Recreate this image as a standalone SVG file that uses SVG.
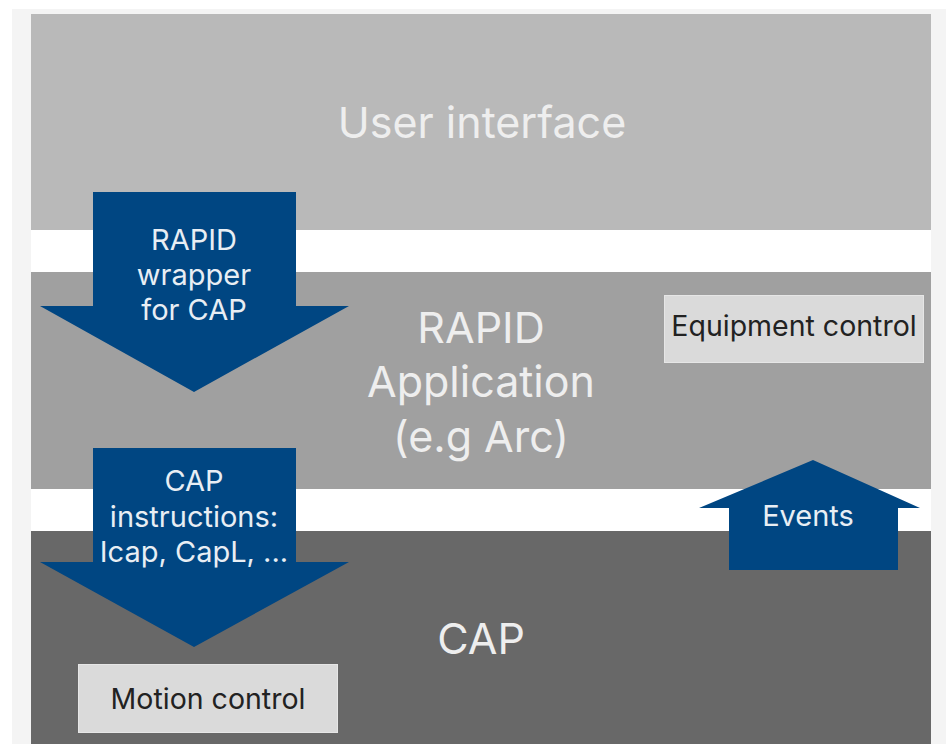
<svg xmlns="http://www.w3.org/2000/svg" width="946" height="744" viewBox="0 0 946 744">
<style>
.band-text{font-family:Inter,"Liberation Sans",sans-serif;font-size:43px;fill:#eeeeee;text-anchor:middle;dominant-baseline:central}
.arrow{fill:#004682}
.arrow-text{font-family:Inter,"Liberation Sans",sans-serif;font-size:29px;fill:#e8eef4;text-anchor:middle;dominant-baseline:central}
.box{fill:#dadada;stroke:#e6e6e6;stroke-width:1}
.box-text{font-family:Inter,"Liberation Sans",sans-serif;font-size:28.5px;fill:#222222;text-anchor:middle;dominant-baseline:central}
</style>
<rect x="0" y="0" width="946" height="744" fill="#ffffff"/>
<rect x="12" y="9" width="934" height="735" fill="#f4f4f4"/>
<rect x="31" y="14" width="900" height="730" fill="#ffffff"/>
<g id="user-interface">
<rect x="31" y="14" width="900" height="216" fill="#b9b9b9"/>
<text class="band-text" x="482" y="122">User interface</text>
</g>
<g id="rapid-application">
<rect x="31" y="272" width="900" height="217" fill="#a0a0a0"/>
<text class="band-text" x="481" y="327">RAPID</text>
<text class="band-text" x="481" y="381">Application</text>
<text class="band-text" x="481" y="436">(e.g Arc)</text>
</g>
<g id="cap">
<rect x="31" y="531" width="900" height="213" fill="#686868"/>
<text class="band-text" x="481" y="638">CAP</text>
</g>
<g id="equipment-control">
<rect class="box" x="664.5" y="295.5" width="259" height="67"/>
<text class="box-text" x="794" y="325">Equipment control</text>
</g>
<g id="motion-control">
<rect class="box" x="78.5" y="664.5" width="259" height="68"/>
<text class="box-text" x="208" y="698">Motion control</text>
</g>
<g id="connectors">
<g id="rapid-wrapper">
<polygon class="arrow" points="93,192 296,192 296,306 349,306 194,392 40,306 93,306"/>
<text class="arrow-text" x="194" y="239">RAPID</text>
<text class="arrow-text" x="194" y="274">wrapper</text>
<text class="arrow-text" x="194" y="309">for CAP</text>
</g>
<g id="cap-instructions">
<polygon class="arrow" points="93,448 296,448 296,562 349,562 194,647 40,562 93,562"/>
<text class="arrow-text" x="194" y="480">CAP</text>
<text class="arrow-text" x="194" y="516">instructions:</text>
<text class="arrow-text" x="194" y="551">Icap, CapL, ...</text>
</g>
<g id="events">
<polygon class="arrow" points="729,570 898,570 898,508 920,508 813,460 699,508 729,508"/>
<text class="arrow-text" x="808" y="515">Events</text>
</g>
</g>
</svg>
